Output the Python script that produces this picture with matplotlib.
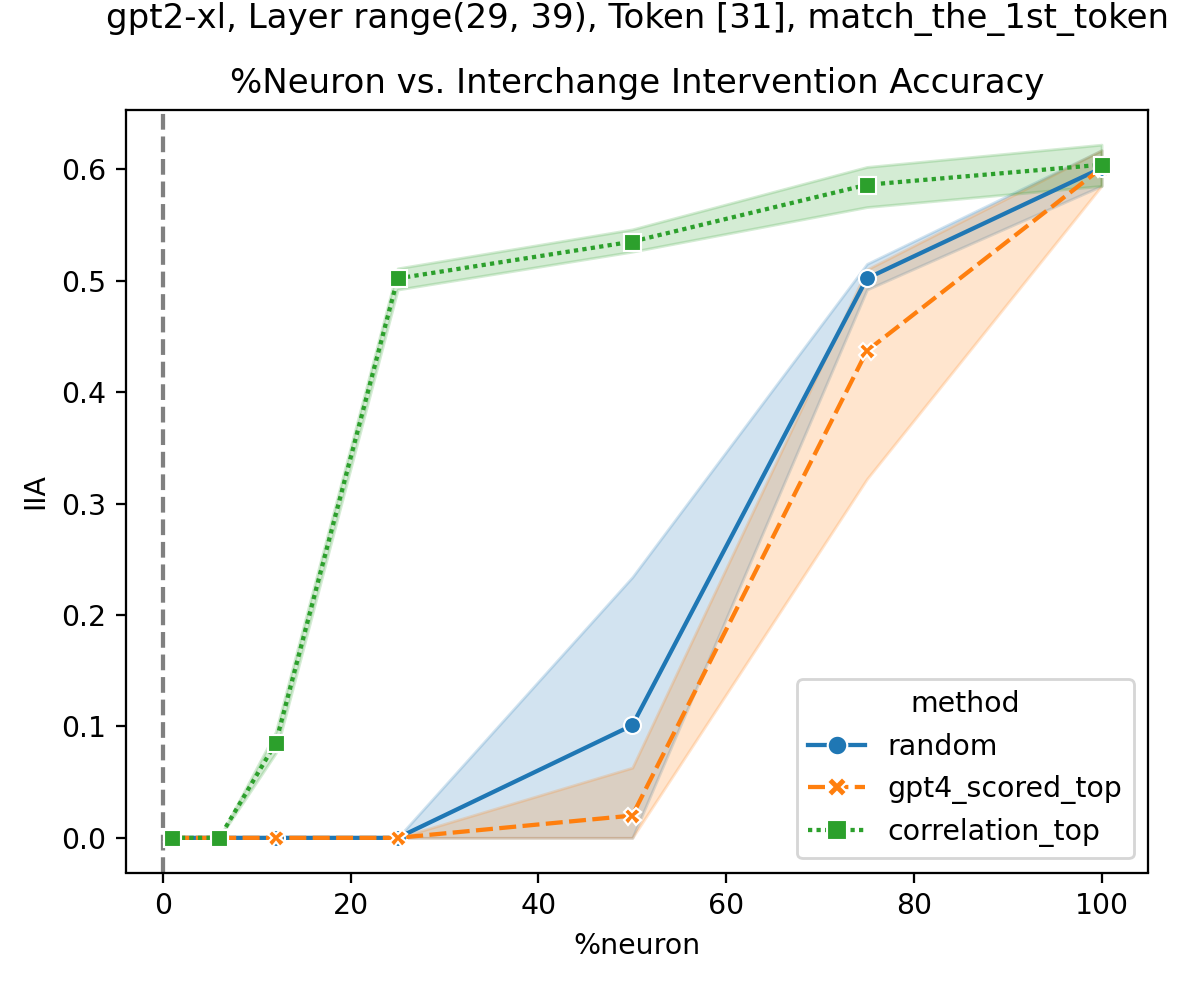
import matplotlib
matplotlib.use("Agg")
import matplotlib.pyplot as plt

x = [1, 6, 12, 25, 50, 75, 100]

methods = ["random", "gpt4_scored_top", "correlation_top"]

random_mean = [0.0, 0.0, 0.0, 0.0, 0.101, 0.502, 0.601]
random_low = [0.0, 0.0, 0.0, 0.0, 0.0, 0.492, 0.585]
random_high = [0.0, 0.0, 0.0, 0.0, 0.234, 0.515, 0.617]

gpt4_mean = [0.0, 0.0, 0.0, 0.0, 0.020, 0.437, 0.601]
gpt4_low = [0.0, 0.0, 0.0, 0.0, 0.0, 0.322, 0.585]
gpt4_high = [0.0, 0.0, 0.0, 0.0, 0.063, 0.510, 0.617]

corr_mean = [0.0, 0.0, 0.085, 0.502, 0.535, 0.586, 0.604]
corr_low = [0.0, 0.0, 0.076, 0.492, 0.526, 0.566, 0.585]
corr_high = [0.0, 0.0, 0.095, 0.511, 0.546, 0.602, 0.622]

means = [random_mean, gpt4_mean, corr_mean]
lows = [random_low, gpt4_low, corr_low]
highs = [random_high, gpt4_high, corr_high]

colors = ["#1f77b4", "#ff7f0e", "#2ca02c"]
markers = ["o", "X", "s"]
dashes = [None, (4, 1.5), (1, 1)]

dpi = 204
fig = plt.figure(figsize=(1196 / dpi, 982 / dpi), dpi=dpi)
ax = fig.add_axes([126 / 1196, 1 - 872.5 / 982, (1148 - 126) / 1196, (872.5 - 110) / 982])

ax.axvline(0, color="gray", linestyle="--", linewidth=1.5)

for name, m, lo, hi, c, mk, d in zip(methods, means, lows, highs, colors, markers, dashes):
    kw = {}
    if d is not None:
        kw["dashes"] = d
    ax.plot(x, m, color=c, marker=mk, markersize=6, markeredgecolor="w",
            markeredgewidth=0.75, linewidth=1.5, label=name, **kw)
    ax.fill_between(x, lo, hi, color=c, alpha=0.2)

ax.set_xlim(-3.95, 104.95)
ax.set_xlabel("%neuron")
ax.set_ylabel("IIA")
ax.set_title("%Neuron vs. Interchange Intervention Accuracy", fontsize=12)
ax.legend(title="method", loc="lower right", markerscale=1.15)

fig.suptitle("gpt2-xl, Layer range(29, 39), Token [31], match_the_1st_token",
             x=637 / 1196, y=1 - 28 / 982, va="baseline", fontsize=12)

fig.savefig("out.png", dpi=dpi)
